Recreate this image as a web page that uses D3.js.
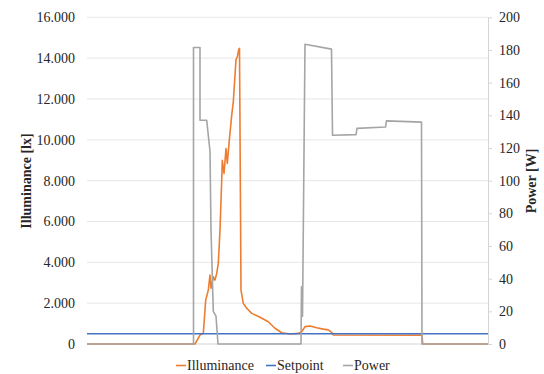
<!DOCTYPE html>
<html>
<head>
<meta charset="utf-8">
<script src="https://cdn.jsdelivr.net/npm/d3@7"></script>
<style>
  body { margin: 0; background: #fff; }
  svg text { font-family: "Liberation Serif", "Times New Roman", serif; }
</style>
</head>
<body>
<svg width="544" height="374"></svg>
<script>
// time steps along the (unlabelled) x axis
var illumTime = [0,108,113,116.3,118.7,121.3,123,124,126.3,128,129.7,131.3,133,134.7,135.3,137,139,140.3,142.3,144.7,
  146.3,149,150.3,151.7,152.5,154,156.3,159.7,164.7,173,181.3,188,194.7,203,211.3,214.7,218,223,229.7,236.3,
  241.3,244.7,246.3,335,335.7,401];
var illuminance = [0,0,440,520,2150,2640,3380,2730,3290,3130,3460,3950,5580,8020,9000,8350,9570,8840,9980,11200,
  11860,13930,14060,14420,14480,2640,1990,1750,1500,1310,1090,770,550,490,520,600,850,880,800,730,
  690,570,440,430,0,0];

var setpointTime = [0, 401];
var setpoint = [500, 500];

var powerTime = [0,106.5,106.5,113,113,119.7,123,124,126.3,129,131,214,214.5,215.5,218,244.5,245.5,269,270,298.5,299.5,334.5,335,401];
var power = [0,0,181.5,181.5,137,137,118,70,20,17,0,0,35,17,183.5,180.5,127.8,128.2,132,132.8,136.6,135.8,0,0];

var leftTicks = [0,2000,4000,6000,8000,10000,12000,14000,16000];
var rightTicks = [0,20,40,60,80,100,120,140,160,180,200];
var seriesNames = ["Illuminance", "Setpoint", "Power"];
var seriesColors = ["#ed7d31", "#4472c4", "#a5a5a5"];

var svg = d3.select("svg");
var plotLeft = 87, plotRight = 488, plotTop = 17.3, plotBottom = 344;

var x = d3.scaleLinear().domain([0, 401]).range([plotLeft, plotRight]);
var yL = d3.scaleLinear().domain([0, 16000]).range([plotBottom, plotTop]);
var yR = d3.scaleLinear().domain([0, 200]).range([plotBottom, plotTop]);

var fmt = d3.formatLocale({decimal: ",", thousands: ".", grouping: [3], currency: ["", ""]}).format(",d");

// gridlines
svg.append("g")
  .selectAll("line")
  .data(leftTicks.slice(1))
  .enter()
  .append("line")
    .attr("x1", plotLeft).attr("x2", plotRight)
    .attr("y1", function(d){ return yL(d) })
    .attr("y2", function(d){ return yL(d) })
    .attr("stroke", "#e6e6e6")
    .attr("stroke-width", 1);

// x axis line
svg.append("line")
  .attr("x1", plotLeft).attr("x2", plotRight)
  .attr("y1", plotBottom).attr("y2", plotBottom)
  .attr("stroke", "#d4d4d4");

// left axis
var gl = svg.append("g")
  .attr("transform", "translate(" + plotLeft + ",0)")
  .call(d3.axisLeft(yL).tickValues(leftTicks).tickFormat(fmt).tickSize(0).tickPadding(12))
  .attr("font-family", "Liberation Serif")
  .attr("font-size", 14);
gl.select(".domain").remove();
gl.selectAll("text").attr("fill", "#262626");

// right axis
var gr = svg.append("g")
  .attr("transform", "translate(" + plotRight + ",0)")
  .call(d3.axisRight(yR).tickValues(rightTicks).tickSize(4).tickSizeOuter(0).tickPadding(7))
  .attr("font-family", "Liberation Serif")
  .attr("font-size", 14);
gr.select(".domain").attr("stroke", "#d4d4d4");
gr.selectAll(".tick line").attr("stroke", "#d4d4d4");
gr.selectAll("text").attr("fill", "#262626");

// axis titles
svg.append("text")
  .attr("transform", "translate(31,181) rotate(-90)")
  .attr("text-anchor", "middle")
  .attr("font-size", 14).attr("font-weight", "bold").attr("fill", "#262626")
  .text("Illuminance [lx]");
svg.append("text")
  .attr("transform", "translate(536,181) rotate(-90)")
  .attr("text-anchor", "middle")
  .attr("font-size", 14).attr("font-weight", "bold").attr("fill", "#262626")
  .text("Power [W]");

// lines
function draw(times, values, yScale, color) {
  var pts = times.map(function(t, i){ return [t, values[i]] });
  svg.append("path")
    .datum(pts)
    .attr("fill", "none")
    .attr("stroke", color)
    .attr("stroke-width", 1.6)
    .attr("stroke-linejoin", "round")
    .attr("d", d3.line()
      .x(function(d){ return x(d[0]) })
      .y(function(d){ return yScale(d[1]) }));
}
draw(illumTime, illuminance, yL, seriesColors[0]);
draw(setpointTime, setpoint, yL, seriesColors[1]);
draw(powerTime, power, yR, seriesColors[2]);

// legend
var legendX = [176, 266, 343];
var lg = svg.append("g");
seriesNames.forEach(function(name, i) {
  lg.append("line")
    .attr("x1", legendX[i]).attr("x2", legendX[i] + 10)
    .attr("y1", 365.5).attr("y2", 365.5)
    .attr("stroke", seriesColors[i]).attr("stroke-width", 1.6);
  lg.append("text")
    .attr("x", legendX[i] + 11).attr("y", 370)
    .attr("font-size", 14).attr("fill", "#262626")
    .text(name);
});
</script>
</body>
</html>
